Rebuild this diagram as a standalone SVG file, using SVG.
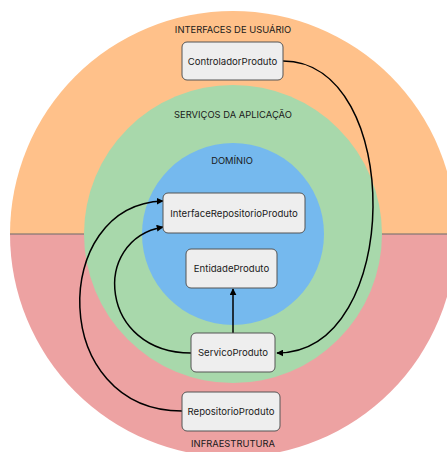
<svg xmlns="http://www.w3.org/2000/svg" width="447" height="452" viewBox="0 0 447 452">
  <defs>
    <style>
      .layer-title { font-family: Inter, "Liberation Sans", sans-serif; font-size: 9.4px; fill: #1a1a1a; text-anchor: middle; }
      .box rect { fill: #eeeeee; stroke: #555555; stroke-width: 1; }
      .box text { font-family: Inter, "Liberation Sans", sans-serif; font-size: 9.6px; fill: #1a1a1a; text-anchor: middle; dominant-baseline: central; }
      .conn { fill: none; stroke: #000000; stroke-width: 1.5; }
    </style>
    <marker id="arrow" viewBox="0 0 10 10" refX="9" refY="5" markerWidth="7" markerHeight="7" markerUnits="userSpaceOnUse" orient="auto">
      <path d="M0,0 L10,5 L0,10 z" fill="#000000"/>
    </marker>
    <clipPath id="top-half"><rect x="0" y="0" width="447" height="234"/></clipPath>
    <clipPath id="bottom-half"><rect x="0" y="234" width="447" height="218"/></clipPath>
  </defs>

  <!-- outer ring: user interfaces (top) and infrastructure (bottom) -->
  <g id="layer-outer">
    <circle cx="233" cy="234" r="223" fill="#ffc18a" clip-path="url(#top-half)"/>
    <circle cx="233" cy="234" r="223" fill="#eda2a2" clip-path="url(#bottom-half)"/>
    <line x1="10" y1="234" x2="447" y2="234" stroke="#6b6b6b" stroke-width="1.2"/>
  </g>

  <!-- application services ring -->
  <g id="layer-services">
    <circle cx="233" cy="234" r="149" fill="#a8d8ab"/>
  </g>

  <!-- domain core -->
  <g id="layer-domain">
    <circle cx="233" cy="234" r="91" fill="#75b9ee"/>
  </g>

  <g id="layer-titles">
    <text class="layer-title" x="233" y="33">INTERFACES DE USUÁRIO</text>
    <text class="layer-title" x="233" y="118">SERVIÇOS DA APLICAÇÃO</text>
    <text class="layer-title" x="232" y="164">DOMÍNIO</text>
    <text class="layer-title" x="233" y="447">INFRAESTRUTURA</text>
  </g>

  <g id="connectors">
    <path class="conn" d="M283,61 C404,61 404,353 277,353" marker-end="url(#arrow)"/>
    <path class="conn" d="M191,353 C100,353 90,240 163,227" marker-end="url(#arrow)"/>
    <path class="conn" d="M182,411 C49,411 49,205 163,201" marker-end="url(#arrow)"/>
    <path class="conn" d="M233,333 L233,289" marker-end="url(#arrow)"/>
  </g>

  <g id="controlador-produto" class="box">
    <rect x="182" y="42" width="101" height="38" rx="5"/>
    <text x="232.5" y="61">ControladorProduto</text>
  </g>
  <g id="interface-repositorio-produto" class="box">
    <rect x="163" y="193" width="142" height="40" rx="5"/>
    <text x="234" y="213">InterfaceRepositorioProduto</text>
  </g>
  <g id="entidade-produto" class="box">
    <rect x="186" y="249" width="91" height="39" rx="5"/>
    <text x="231.5" y="268.5">EntidadeProduto</text>
  </g>
  <g id="servico-produto" class="box">
    <rect x="191" y="333" width="84" height="39" rx="5"/>
    <text x="233" y="352.5">ServicoProduto</text>
  </g>
  <g id="repositorio-produto" class="box">
    <rect x="182" y="392" width="98" height="39" rx="5"/>
    <text x="231" y="411.5">RepositorioProduto</text>
  </g>
</svg>
